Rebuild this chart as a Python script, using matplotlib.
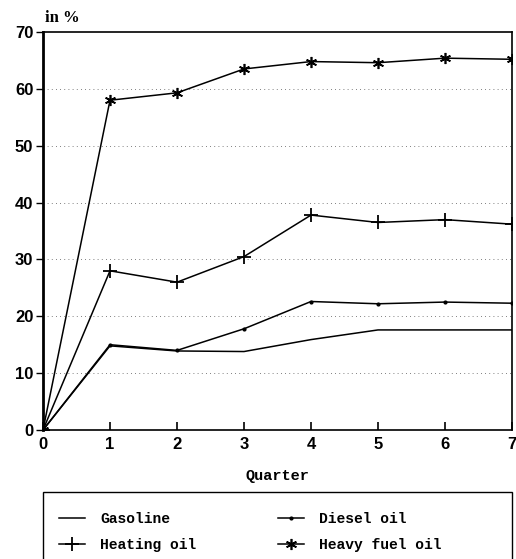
import matplotlib.pyplot as plt
from matplotlib.patches import Rectangle

quarters = [0, 1, 2, 3, 4, 5, 6, 7]
gasoline = [0, 14.8, 13.9, 13.8, 15.9, 17.6, 17.6, 17.6]
diesel = [0, 15.0, 14.0, 17.8, 22.6, 22.2, 22.5, 22.3]
heating = [0, 28.0, 26.0, 30.5, 37.8, 36.5, 37.0, 36.2]
heavy = [0, 58.0, 59.3, 63.5, 64.8, 64.6, 65.4, 65.2]

plt.rcParams['font.family'] = ['Liberation Sans', 'DejaVu Sans']

fig = plt.figure(figsize=(5.16, 5.59), dpi=100)
ax = fig.add_axes([43/516, 1 - 430/559, 469/516, 398/559])

ax.plot(quarters, gasoline, color='black', lw=1.1, label='Gasoline')
ax.plot(quarters, heating, color='black', lw=1.1, marker='+', ms=10, mew=1.3, label='Heating oil')
ax.plot(quarters, diesel, color='black', lw=1.1, marker='.', ms=4, label='Diesel oil')
ax.plot(quarters, heavy, color='black', lw=1.1, marker=(6, 2, 0), ms=8, mew=1.2, label='Heavy fuel oil')

ax.set_xlim(0, 7)
ax.set_ylim(0, 70)
ax.set_xticks(quarters)
ax.set_yticks(range(0, 71, 10))
for y in range(10, 70, 10):
    ax.axhline(y, color='#555555', lw=0.6, ls=(0, (1, 4)), zorder=0)

for s in ax.spines.values():
    s.set_linewidth(1.2)
ax.spines['left'].set_linewidth(2)
ax.tick_params(axis='x', direction='in', length=6, width=1.2, labelsize=12, pad=5)
ax.tick_params(axis='y', direction='out', length=5, width=1, labelsize=12, pad=2)
for lab in ax.get_xticklabels() + ax.get_yticklabels():
    lab.set_fontweight('bold')

ax.set_xlabel('Quarter', family='Liberation Mono', fontweight='bold', fontsize=11, labelpad=12)
fig.text(45/516, 1 - 18/559, 'in %', family='Liberation Serif', fontweight='bold', fontsize=12, va='center')

fig.patches.append(Rectangle((43/516, -0.05), 469/516, 0.05 + 1 - 492/559,
                             transform=fig.transFigure, fill=False, ec='black', lw=1))
h, l = ax.get_legend_handles_labels()
fig.legend(h, l, ncol=2, frameon=False, loc='upper left', bbox_to_anchor=(46/516, 1 - 499/559),
           handlelength=1.8, handletextpad=1.0, columnspacing=5.6, labelspacing=0.8,
           prop={'family': 'Liberation Mono', 'weight': 'bold', 'size': 10.5})

fig.savefig('out.png', dpi=100)
